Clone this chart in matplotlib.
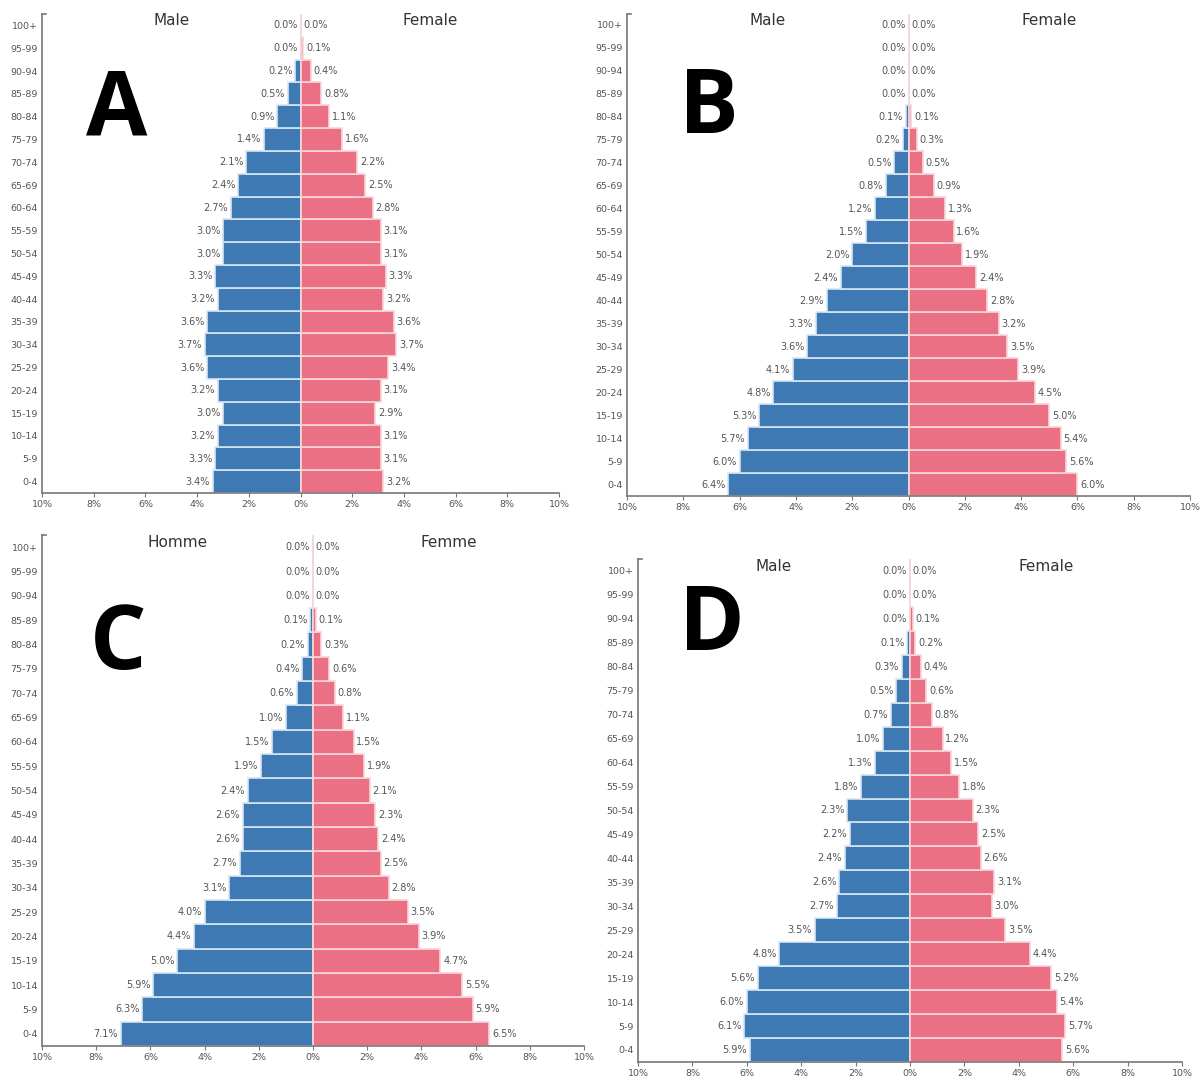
import numpy as np
import matplotlib
matplotlib.use("Agg")
from matplotlib import pyplot as plt

ages = ['0-4','5-9','10-14','15-19','20-24','25-29','30-34','35-39','40-44','45-49',
        '50-54','55-59','60-64','65-69','70-74','75-79','80-84','85-89','90-94','95-99','100+']

a_male = [3.4,3.3,3.2,3.0,3.2,3.6,3.7,3.6,3.2,3.3,3.0,3.0,2.7,2.4,2.1,1.4,0.9,0.5,0.2,0.0,0.0]
a_female = [3.2,3.1,3.1,2.9,3.1,3.4,3.7,3.6,3.2,3.3,3.1,3.1,2.8,2.5,2.2,1.6,1.1,0.8,0.4,0.1,0.0]

b_male = [6.4,6.0,5.7,5.3,4.8,4.1,3.6,3.3,2.9,2.4,2.0,1.5,1.2,0.8,0.5,0.2,0.1,0.0,0.0,0.0,0.0]
b_female = [6.0,5.6,5.4,5.0,4.5,3.9,3.5,3.2,2.8,2.4,1.9,1.6,1.3,0.9,0.5,0.3,0.1,0.0,0.0,0.0,0.0]

c_male = [7.1,6.3,5.9,5.0,4.4,4.0,3.1,2.7,2.6,2.6,2.4,1.9,1.5,1.0,0.6,0.4,0.2,0.1,0.0,0.0,0.0]
c_female = [6.5,5.9,5.5,4.7,3.9,3.5,2.8,2.5,2.4,2.3,2.1,1.9,1.5,1.1,0.8,0.6,0.3,0.1,0.0,0.0,0.0]

d_male = [5.9,6.1,6.0,5.6,4.8,3.5,2.7,2.6,2.4,2.2,2.3,1.8,1.3,1.0,0.7,0.5,0.3,0.1,0.0,0.0,0.0]
d_female = [5.6,5.7,5.4,5.2,4.4,3.5,3.0,3.1,2.6,2.5,2.3,1.8,1.5,1.2,0.8,0.6,0.4,0.2,0.1,0.0,0.0]

letters = ['A','B','C','D']
left_titles = ['Male','Male','Homme','Male']
right_titles = ['Female','Female','Femme','Female']
xticks = [-10,-8,-6,-4,-2,0,2,4,6,8,10]

blue = '#3f79b3'
pink = '#ec7083'
grey = '#555555'

fig = plt.figure(figsize=(12.04,10.8), dpi=100)

# axes boxes in figure fractions
boxes = [[0.0349,0.5435,0.4294,0.4435],
         [0.5208,0.5403,0.4676,0.4472],
         [0.0349,0.0315,0.4501,0.4731],
         [0.5299,0.0167,0.4518,0.4657]]
# letter centre x and baseline y, in data units
letter_pos = [(-7.1,15.2),(-7.1,15.3),(-7.2,15.0),(-7.3,16.7)]

panels = [(a_male,a_female),(b_male,b_female),(c_male,c_female),(d_male,d_female)]
y = np.arange(len(ages))

for i in range(4):
    ax = fig.add_axes(boxes[i])
    male, female = panels[i]
    male = np.array(male)
    female = np.array(female)
    ax.barh(y,-male,height=1.0,color=blue,edgecolor='#d5e6f5',linewidth=1.2)
    ax.barh(y,female,height=1.0,color=pink,edgecolor='#f8d5da',linewidth=1.2)
    for j in range(len(ages)):
        ax.annotate('%.1f%%' % male[j],(-male[j],y[j]),xytext=(-2,0),textcoords='offset points',
                    ha='right',va='center',fontsize=7,color=grey)
        ax.annotate('%.1f%%' % female[j],(female[j],y[j]),xytext=(2,0),textcoords='offset points',
                    ha='left',va='center',fontsize=7,color=grey)
    ax.set_xlim(-10,10)
    ax.set_ylim(-0.5,20.5)
    ax.set_yticks(y)
    ax.set_yticklabels(ages,fontsize=6.8,color=grey)
    ax.set_xticks(xticks)
    ax.set_xticklabels(['%d%%' % abs(t) for t in xticks],fontsize=6.8,color=grey)
    ax.tick_params(axis='y',length=0,pad=3)
    ax.tick_params(axis='x',length=3,color='#777777',pad=2)
    for s in ['top','right']:
        ax.spines[s].set_visible(False)
    for s in ['left','bottom']:
        ax.spines[s].set_color('#777777')
        ax.spines[s].set_linewidth(1.2)
    # small cap at the top of the y axis
    ax.plot([-10,-9.85],[20.5,20.5],color='#777777',lw=1.2,clip_on=False)
    ax.text(-5,20.2,left_titles[i],ha='center',va='center',fontsize=11,color='#333333')
    ax.text(5,20.2,right_titles[i],ha='center',va='center',fontsize=11,color='#333333')
    ax.text(letter_pos[i][0],letter_pos[i][1],letters[i],ha='center',va='baseline',
            fontsize=64,fontweight='bold',family='Open Sans',color='black')

fig.savefig('out.png',dpi=100)
